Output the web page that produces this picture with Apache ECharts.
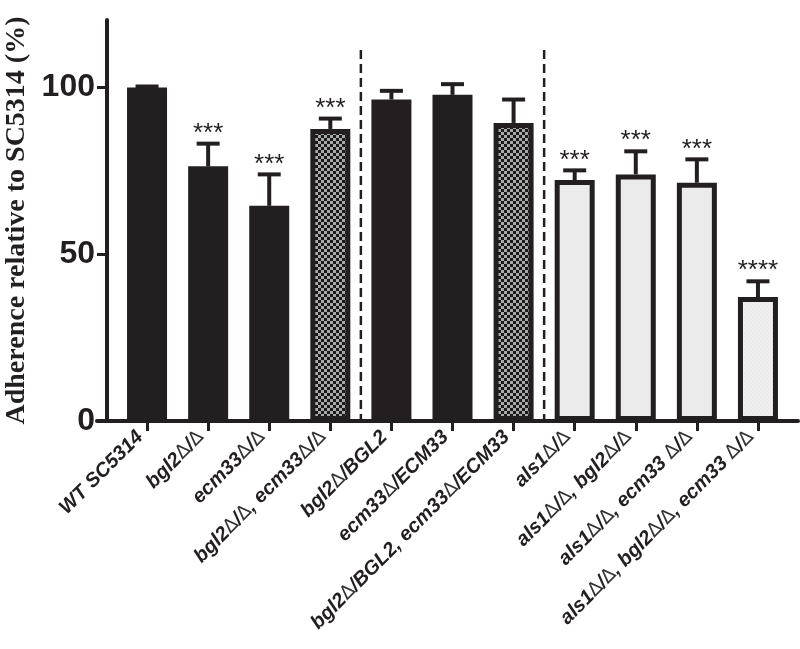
<!DOCTYPE html>
<html>
<head>
<meta charset="utf-8">
<script src="https://cdn.jsdelivr.net/npm/echarts@6/dist/echarts.min.js"></script>
<style>
html,body{margin:0;padding:0;background:#fff;}
#chart{width:800px;height:649px;}
</style>
</head>
<body>
<div id="chart"></div>
<script>
// ---- data ----
var categories = [
  'WT SC5314',
  'bgl2Δ/Δ',
  'ecm33Δ/Δ',
  'bgl2Δ/Δ, ecm33Δ/Δ',
  'bgl2Δ/BGL2',
  'ecm33Δ/ECM33',
  'bgl2Δ/BGL2, ecm33Δ/ECM33',
  'als1Δ/Δ',
  'als1Δ/Δ, bgl2Δ/Δ',
  'als1Δ/Δ, ecm33 Δ/Δ',
  'als1Δ/Δ, bgl2Δ/Δ, ecm33 Δ/Δ'
];
var means = [99.8, 76.2, 64.4, 87.4, 96.2, 97.6, 89.2, 72.1, 73.8, 71.3, 37.1];
var errUp = [0.3, 6.8, 9.4, 3.1, 2.6, 3.2, 7.0, 2.9, 6.9, 7.0, 4.7];
var stars = ['', '***', '***', '***', '', '', '', '***', '***', '***', '****'];
// fill type per bar: 'solid', 'check', 'light', 'dots'
var fills = ['solid', 'solid', 'solid', 'check', 'solid', 'solid', 'check', 'light', 'light', 'light', 'dots'];
var separatorsAfter = [3, 6];
var separatorTop = 111;
var yTicks = [0, 50, 100];
var yMax = 120;

// ---- patterns ----
function checkPattern() {
  var c = document.createElement('canvas');
  c.width = 6; c.height = 6;
  var g = c.getContext('2d');
  g.fillStyle = '#a9a9a9'; g.fillRect(0, 0, 6, 6);
  g.fillStyle = '#1a1a1a';
  g.fillRect(0, 0, 3, 3); g.fillRect(3, 3, 3, 3);
  return c;
}
function dotPattern() {
  var c = document.createElement('canvas');
  c.width = 4; c.height = 4;
  var g = c.getContext('2d');
  g.fillStyle = '#efefef'; g.fillRect(0, 0, 4, 4);
  g.fillStyle = '#e2e2e2'; g.fillRect(0, 0, 1, 1); g.fillRect(2, 2, 1, 1);
  return c;
}
var checkImg = checkPattern();
var dotImg = dotPattern();
var INK = '#231f20';

function fillColor(t) {
  if (t === 'solid') return INK;
  if (t === 'check') return { image: checkImg, repeat: 'repeat' };
  if (t === 'light') return '#ebebeb';
  return { image: dotImg, repeat: 'repeat' };
}

var barData = means.map(function (v, i) {
  return { value: v, itemStyle: { color: fillColor(fills[i]) } };
});
var errData = means.map(function (v, i) { return [i, v, v + errUp[i], stars[i]]; });
var sepData = separatorsAfter.map(function (i) { return [i, separatorTop]; });

function richLabel(s) {
  return s.split('Δ').map(function (p, i) {
    return (i > 0 ? '{d|Δ}' : '') + (p ? '{t|' + p + '}' : '');
  }).join('');
}

var chart = echarts.init(document.getElementById('chart'), null, { renderer: 'canvas' });
var option = {
  backgroundColor: '#fff',
  animation: false,
  grid: [
    { left: 116.5, right: 11.5, top: 20, bottom: 228, containLabel: false, outerBoundsMode: 'none' },
    { left: 97, right: 2, top: 20, bottom: 228, containLabel: false, outerBoundsMode: 'none' }
  ],
  xAxis: [
    {
      type: 'category', gridIndex: 0, data: categories,
      axisLine: { show: false },
      axisTick: { show: true, alignWithLabel: true, length: 10, lineStyle: { color: INK, width: 3 } },
      axisLabel: {
        rotate: 45, margin: 6, interval: 0, color: INK,
        padding: [0, 10, 0, 0],
        formatter: function (v) { return richLabel(v); },
        rich: {
          t: { fontFamily: 'Liberation Sans, Arial, sans-serif', fontSize: 20, fontWeight: 'bold', fontStyle: 'italic', color: INK },
          d: { fontFamily: 'DejaVu Sans, sans-serif', fontSize: 19, fontWeight: 'normal', color: '#333' }
        }
      }
    },
    {
      type: 'value', gridIndex: 1, min: 0, max: 1,
      axisLine: { show: true, lineStyle: { color: INK, width: 4 } },
      axisTick: { show: false }, axisLabel: { show: false }, splitLine: { show: false }
    }
  ],
  yAxis: [
    {
      type: 'value', gridIndex: 0, min: 0, max: yMax, offset: 9.5,
      name: 'Adherence relative to SC5314 (%)',
      nameLocation: 'middle', nameGap: 76,
      nameTextStyle: { fontFamily: 'Liberation Serif, Times New Roman, serif', fontSize: 28, fontWeight: 'bold', color: INK },
      axisLine: { show: true, lineStyle: { color: INK, width: 4 } },
      axisTick: { show: true, length: 10, customValues: yTicks, lineStyle: { color: INK, width: 3 } },
      axisLabel: { customValues: yTicks, margin: 12, fontFamily: 'Liberation Sans, Arial, sans-serif', fontSize: 32, fontWeight: 'bold', color: INK },
      splitLine: { show: false }
    },
    { type: 'value', gridIndex: 1, min: 0, max: 1, show: false }
  ],
  series: [
    {
      type: 'bar', xAxisIndex: 0, yAxisIndex: 0,
      data: barData, barWidth: 40,
      itemStyle: { borderColor: INK, borderWidth: 5 },
      z: 2
    },
    {
      type: 'custom', xAxisIndex: 0, yAxisIndex: 0, data: errData, z: 3,
      renderItem: function (params, api) {
        var top = api.coord([api.value(0), api.value(1)]);
        var cap = api.coord([api.value(0), api.value(2)]);
        var s = errData[params.dataIndex][3];
        var ch = [
          { type: 'line', shape: { x1: top[0], y1: top[1], x2: cap[0], y2: cap[1] }, style: { stroke: INK, lineWidth: 4 } },
          { type: 'line', shape: { x1: cap[0] - 11.5, y1: cap[1], x2: cap[0] + 11.5, y2: cap[1] }, style: { stroke: INK, lineWidth: 4 } }
        ];
        if (s) {
          ch.push({ type: 'text', x: cap[0], y: cap[1] + 3, style: { text: s, fontFamily: 'Liberation Sans, Arial, sans-serif', fontSize: 26, fill: INK, align: 'center', verticalAlign: 'bottom' } });
        }
        return { type: 'group', children: ch };
      }
    },
    {
      type: 'custom', xAxisIndex: 0, yAxisIndex: 0, data: sepData, z: 1,
      renderItem: function (params, api) {
        var w = api.size([1, 0])[0];
        var p1 = api.coord([api.value(0), api.value(1)]);
        var p0 = api.coord([api.value(0), 0]);
        var x = p1[0] + w / 2;
        return { type: 'line', shape: { x1: x, y1: p1[1], x2: x, y2: p0[1] }, style: { stroke: INK, lineWidth: 2.5, lineDash: [9, 5] } };
      }
    }
  ]
};
chart.setOption(option);
</script>
</body>
</html>
